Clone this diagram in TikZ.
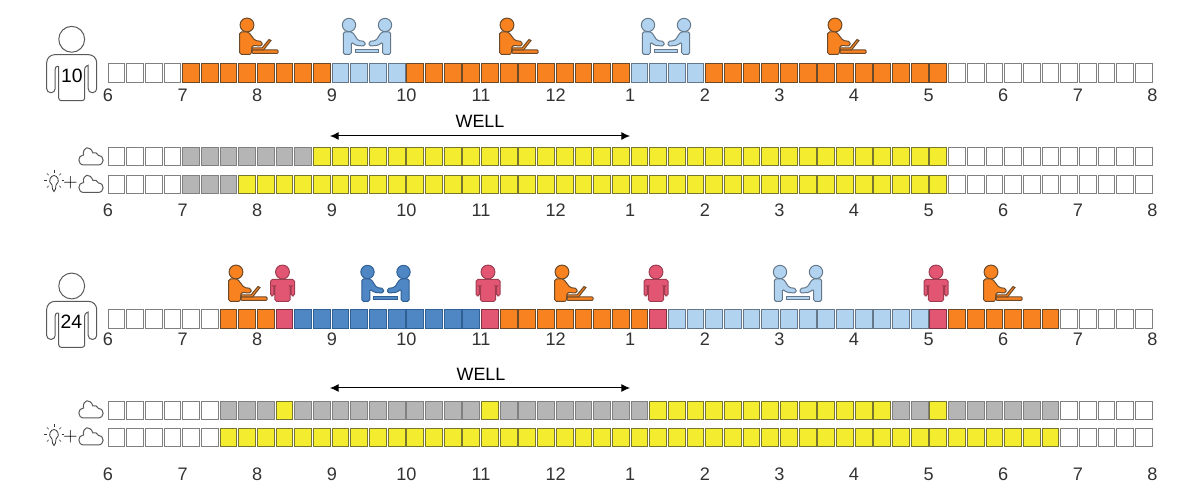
\documentclass[tikz,border=0pt]{standalone}
\usepackage{fontspec}
\setmainfont{Liberation Sans}
\usetikzlibrary{arrows.meta}
\definecolor{orangeF}{HTML}{F98220}
\definecolor{orangeD}{HTML}{6B4A2A}
\definecolor{lblueF}{HTML}{B1D3F0}
\definecolor{lblueD}{HTML}{64788A}
\definecolor{dblueF}{HTML}{4F87C5}
\definecolor{dblueD}{HTML}{2F5F93}
\definecolor{pinkF}{HTML}{E35673}
\definecolor{pinkD}{HTML}{7E3344}
\definecolor{greyF}{HTML}{B5B5B5}
\definecolor{yellowF}{HTML}{F4EC2F}
\definecolor{yellowD}{HTML}{77752F}
\definecolor{textC}{HTML}{333333}
\tikzset{
  cell/.style={rectangle,inner sep=0pt,outer sep=0pt,minimum width=12.6pt,minimum height=14.1pt,line width=0.7pt},
  cw/.style={cell,draw=black!50,fill=white},
  co/.style={cell,draw=orangeD,fill=orangeF},
  cb/.style={cell,draw=lblueD,fill=lblueF},
  cd/.style={cell,draw=dblueD,fill=dblueF},
  cp/.style={cell,draw=pinkD,fill=pinkF},
  cg/.style={cell,draw=black!50,fill=greyF},
  cy/.style={cell,draw=yellowD,fill=yellowF},
  hour/.style={inner sep=0pt,font=\fontsize{13.6pt}{15pt}\selectfont,text=textC},
  well/.style={inner sep=0pt,font=\fontsize{13.4pt}{15pt}\selectfont,text=black},
  count/.style={inner sep=0pt,font=\fontsize{14.5pt}{16pt}\selectfont,text=black},
  plussign/.style={inner sep=0pt,font=\fontsize{15.5pt}{17pt}\selectfont},
  iconO/.style={draw=orangeD,fill=orangeF,line width=0.75pt},
  iconB/.style={draw=lblueD,fill=lblueF,line width=0.75pt},
  iconD/.style={draw=dblueD,fill=dblueF,line width=0.75pt},
  iconP/.style={draw=pinkF!70!black,fill=pinkF,line width=0.75pt},
  worker/.pic={
    \path[pic actions] (0,0) circle[radius=5.2pt];
    \path[pic actions,rounded corners=1.2pt] (-7.3,29.3) -- (-7.3,7) -- (1.5,7) -- (8,15.5) -- (15,16.5) -- (15,21) -- (5,20.5) -- (4.5,29.3) -- cycle;
    \path[pic actions,rounded corners=0.6pt] (5,25) -- (31,25) -- (31,28.3) -- (5,28.3) -- cycle;
    \path[pic actions] (5,23) -- (15,23) -- (22,14.5) -- (24,15.5) -- (16.5,25) -- (5,25) -- cycle;
  },
  meeting/.pic={
    \foreach \s in {1,-1}{
      \begin{scope}[xscale=\s]
        \path[pic actions] (-18,0) circle[radius=5pt];
        \path[pic actions,rounded corners=1.2pt] (-23.7,29.3) -- (-23.7,7) -- (-14.5,7) -- (-9,15.5) -- (-2,16.5) -- (-2,21) -- (-11,20.5) -- (-15.7,17) -- (-15.7,29.3) -- cycle;
      \end{scope}
    }
    \path[pic actions] (-11.7,24.8) rectangle (11.7,27.4);
  },
  stander/.pic={
    \path[pic actions] (0,0) circle[radius=5.2pt];
    \path[pic actions,rounded corners=1.3pt] (-12,24) -- (-12,7.5) -- (12,7.5) -- (12,24) -- (8.7,24) -- (8.7,14) -- (7.7,14) -- (7.7,29.3) -- (-7.7,29.3) -- (-7.7,14) -- (-8.7,14) -- (-8.7,24) -- cycle;
  },
  bigman/.pic={
    \draw[draw=black!65,fill=white,line width=0.75pt] (0,0) circle[radius=9.7pt];
    \draw[draw=black!65,fill=white,line width=0.75pt,rounded corners=3pt] (-25,53.4) [rounded corners=6pt] -- (-25,15.4) -- (25,15.4) [rounded corners=3pt] -- (25,53.4) -- (16.5,53.4) -- (16.5,30) [sharp corners] .. controls (16.5,26.5) and (13,26.5) .. (13,30) [rounded corners=2pt] -- (13,61.4) -- (-13,61.4) -- (-13,30) [sharp corners] .. controls (-13,26.5) and (-16.5,26.5) .. (-16.5,30) [rounded corners=3pt] -- (-16.5,53.4) -- cycle;
  },
  cloudicon/.pic={
    \draw[draw=black!65,fill=white,line width=0.75pt] (5,0) -- (19,0) .. controls (25.5,0) and (26,-9) .. (19.5,-9.5) .. controls (18.5,-12) and (16,-13) .. (14,-12) .. controls (11,-20) and (3.5,-18.5) .. (4.5,-10) .. controls (-1.5,-10) and (-2,0) .. (5,0) -- cycle;
  },
  bulbicon/.pic={
    \draw[draw=black!80,fill=white,line width=0.6pt] (-2,3) .. controls (-7,-1) and (-3,-6.5) .. (0,-6.5) .. controls (3,-6.5) and (7,-1) .. (2,3) -- (1.5,7) -- (0,9.5) -- (-1.5,7) -- cycle;
    \foreach \a in {0,45,90,135,180,225,315}{
      \draw[draw=black!80,line width=0.5pt] ({7.5*cos(\a)},{-1.5-7.5*sin(\a)}) -- ({10*cos(\a)},{-1.5-10*sin(\a)});
    }
  }
}
% #1 row name, #2 y centre, #3 list of style/from/to
\newcommand{\cellrow}[3]{%
  \foreach \c/\a/\b in {#3}{%
    \foreach \i in {\a,...,\b}{%
      \node[\c] (#1-\i) at ({116.4+(\i-1)*18.68},#2) {};
    }%
  }%
}
\newcommand{\hourrow}[2]{%
  \foreach \h [count=\n from 0] in {6,7,8,9,10,11,12,1,2,3,4,5,6,7,8}{%
    \node[hour] (#1-\n) at ({108+\n*74.6},#2) {\h};
  }%
}
\begin{document}
\begin{tikzpicture}[x=0.75pt,y=-0.75pt]
\useasboundingbox (0,0) rectangle (1200,498);
% upper block
\pic at (71.7,39.3) {bigman};
\node[count] (n10) at (72,75.5) {10};
\foreach \x in {247,507,835} \pic[iconO] at (\x,25) {worker};
\foreach \x in {367,666} \pic[iconB] at (\x,25) {meeting};
\cellrow{a}{72.8}{cw/1/4,co/5/12,cb/13/16,co/17/28,cb/29/32,co/33/45,cw/46/56}
\hourrow{ha}{95}
\coordinate (wlA) at (330,136);
\coordinate (wrA) at (630,136);
\draw[{Latex[length=6.5pt,width=6pt]}-{Latex[length=6.5pt,width=6pt]},line width=0.75pt] (wlA) -- (wrA);
\node[well] (wellA) at (480,121.5) {WELL};
\pic at (79,165) {cloudicon};
\cellrow{b}{156.5}{cw/1/4,cg/5/11,cy/12/45,cw/46/56}
\pic at (54,182) {bulbicon};
\node[plussign] (plusA) at (70.5,183) {$+$};
\pic at (79,192.5) {cloudicon};
\cellrow{c}{184.5}{cw/1/4,cg/5/7,cy/8/45,cw/46/56}
\hourrow{hb}{210}
% lower block
\pic at (71.7,286) {bigman};
\node[count] (n24) at (71.5,322) {24};
\foreach \x in {236,562,991} \pic[iconO] at (\x,272) {worker};
\foreach \x in {282.5,488,656,936} \pic[iconP] at (\x,272) {stander};
\pic[iconD] at (385.5,272) {meeting};
\pic[iconB] at (798,272) {meeting};
\cellrow{d}{319}{cw/1/6,co/7/9,cp/10/10,cd/11/20,cp/21/21,co/22/29,cp/30/30,cb/31/44,cp/45/45,co/46/51,cw/52/56}
\hourrow{hc}{339.5}
\coordinate (wlB) at (330,388);
\coordinate (wrB) at (630,388);
\draw[{Latex[length=6.5pt,width=6pt]}-{Latex[length=6.5pt,width=6pt]},line width=0.75pt] (wlB) -- (wrB);
\node[well] (wellB) at (481,374) {WELL};
\pic at (79,418) {cloudicon};
\cellrow{e}{410.5}{cw/1/6,cg/7/9,cy/10/10,cg/11/20,cy/21/21,cg/22/29,cy/30/42,cg/43/44,cy/45/45,cg/46/51,cw/52/56}
\pic at (54,436) {bulbicon};
\node[plussign] (plusB) at (70.5,437) {$+$};
\pic at (79,445) {cloudicon};
\cellrow{f}{437.5}{cw/1/6,cy/7/51,cw/52/56}
\hourrow{hd}{474}
\end{tikzpicture}
\end{document}
